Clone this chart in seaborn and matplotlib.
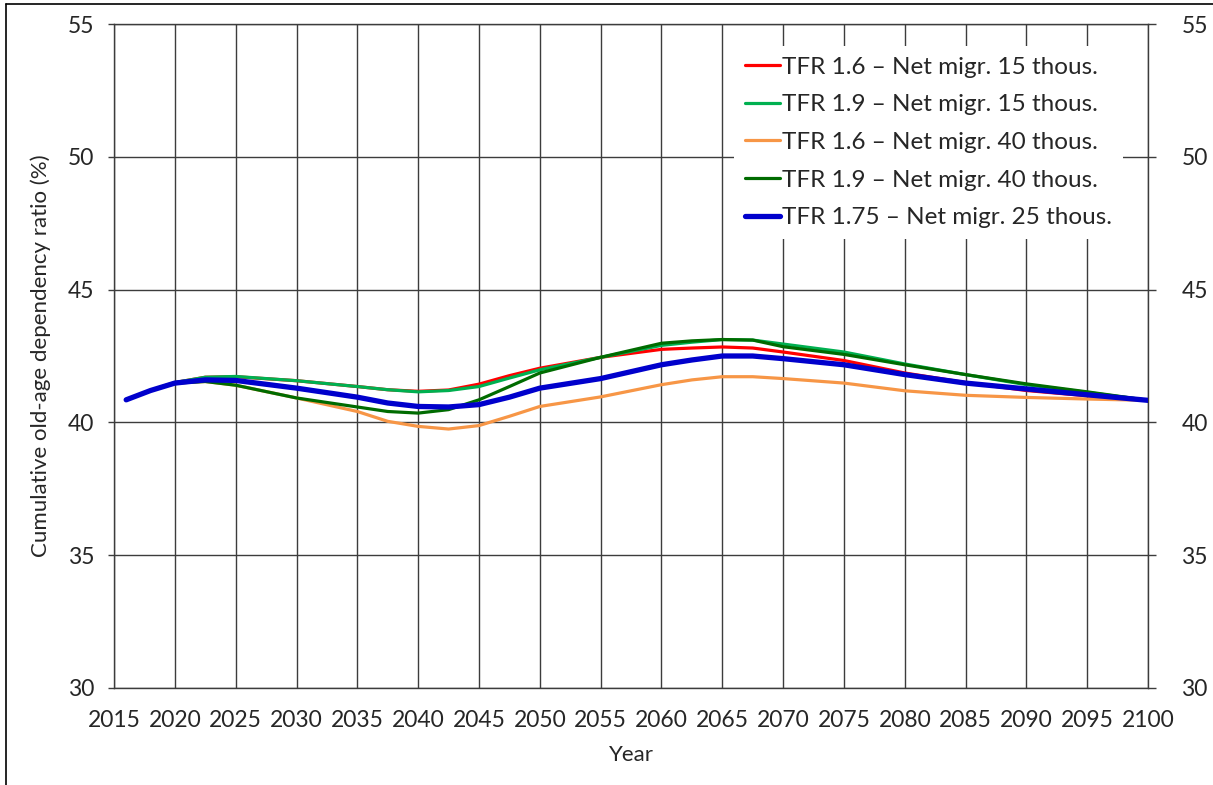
import matplotlib
matplotlib.use("Agg")
import matplotlib.pyplot as plt
import seaborn as sns
import numpy as np
import pandas as pd
from matplotlib.lines import Line2D

# values
years = [2016, 2018, 2020, 2022.5, 2025, 2030, 2035, 2037.5, 2040, 2042.5,
         2045, 2047.5, 2050, 2055, 2060, 2062.5, 2065, 2067.5, 2070, 2075,
         2080, 2085, 2090, 2095, 2100]

tfr16_m15 = [40.85, 41.2, 41.5, 41.7, 41.72, 41.57, 41.35, 41.23, 41.17, 41.22,
             41.44, 41.76, 42.04, 42.45, 42.75, 42.8, 42.84, 42.8, 42.65, 42.33,
             41.86, 41.5, 41.2, 41.0, 40.83]
tfr19_m15 = [40.85, 41.2, 41.5, 41.7, 41.73, 41.57, 41.35, 41.23, 41.15, 41.2,
             41.35, 41.67, 41.98, 42.45, 42.9, 43.02, 43.12, 43.1, 42.95, 42.65,
             42.2, 41.8, 41.42, 41.13, 40.83]
tfr16_m40 = [40.85, 41.2, 41.48, 41.54, 41.4, 40.92, 40.41, 40.04, 39.85, 39.75,
             39.88, 40.23, 40.6, 40.96, 41.42, 41.6, 41.72, 41.72, 41.65, 41.48,
             41.19, 41.02, 40.94, 40.88, 40.83]
tfr19_m40 = [40.85, 41.2, 41.48, 41.54, 41.4, 40.92, 40.58, 40.41, 40.35, 40.48,
             40.85, 41.35, 41.86, 42.45, 42.98, 43.07, 43.12, 43.1, 42.85, 42.56,
             42.17, 41.8, 41.45, 41.15, 40.83]
tfr175_m25 = [40.85, 41.2, 41.48, 41.6, 41.58, 41.29, 40.95, 40.73, 40.6, 40.58,
              40.67, 40.95, 41.29, 41.65, 42.17, 42.35, 42.5, 42.5, 42.4, 42.17,
              41.8, 41.48, 41.26, 41.04, 40.83]

labels = ["TFR 1.6 – Net migr. 15 thous.",
          "TFR 1.9 – Net migr. 15 thous.",
          "TFR 1.6 – Net migr. 40 thous.",
          "TFR 1.9 – Net migr. 40 thous.",
          "TFR 1.75 – Net migr. 25 thous."]
series = [tfr16_m15, tfr19_m15, tfr16_m40, tfr19_m40, tfr175_m25]
colors = ["#FF0000", "#00B050", "#F79646", "#006B00", "#0000CC"]
widths = [2.3, 2.3, 2.3, 2.3, 3.8]

x_ticks = list(range(2015, 2101, 5))
y_ticks = [30, 35, 40, 45, 50, 55]

sns.set_style("white")
plt.rcParams["font.family"] = ["Lato", "DejaVu Sans"]

fig = plt.figure(figsize=(12.13, 7.85), dpi=100)
ax = fig.add_axes([0.094, 0.1236, 0.8525, 0.8458])

for vals, lab, col, lw in zip(series, labels, colors, widths):
    df = pd.DataFrame({"Year": years, "ratio": vals})
    sns.lineplot(data=df, x="Year", y="ratio", color=col, linewidth=lw,
                 ax=ax, label=lab, zorder=3, solid_joinstyle="round",
                 solid_capstyle="round")

ax.set_xlim(2015, 2100)
ax.set_ylim(30, 55)
ax.set_xticks(x_ticks)
ax.set_yticks(y_ticks)
ax.grid(True, color="#3c3c3c", linewidth=1.0)
ax.set_axisbelow(True)
for s in ax.spines.values():
    s.set_color("#3c3c3c")
    s.set_linewidth(1.0)

ax.tick_params(axis="x", length=0, pad=16, labelsize=16.5)
ax.tick_params(axis="y", length=4, width=1.0, color="#3c3c3c", pad=10, labelsize=16.5)
ax.set_xlabel("Year", fontsize=16, labelpad=10)
ax.set_ylabel("Cumulative old-age dependency ratio (%)", fontsize=16, labelpad=12)

ax2 = ax.twinx()
ax2.set_ylim(30, 55)
ax2.set_yticks(y_ticks)
ax2.tick_params(axis="y", length=6, width=1.0, color="#3c3c3c", pad=18, labelsize=16.5)
for s in ax2.spines.values():
    s.set_visible(False)

handles = [Line2D([0], [0], color=c, lw=w) for c, w in zip(colors, widths)]
leg = ax2.legend(handles, labels, loc="upper right", bbox_to_anchor=(0.976, 0.967),
                 borderaxespad=0, frameon=True, facecolor="white", edgecolor="none",
                 framealpha=1, fancybox=False, fontsize=17.5, handlelength=1.45,
                 handletextpad=0.1, labelspacing=0.68, borderpad=0.45)
if ax.get_legend() is not None:
    ax.get_legend().remove()

# figure frame visible at the left and top of the reference
fig.add_artist(Line2D([0.005, 0.005], [0, 0.995], color="black", lw=1.2,
                      transform=fig.transFigure))
fig.add_artist(Line2D([0.005, 1], [0.995, 0.995], color="black", lw=1.2,
                      transform=fig.transFigure))

fig.savefig("out.png", dpi=100)
